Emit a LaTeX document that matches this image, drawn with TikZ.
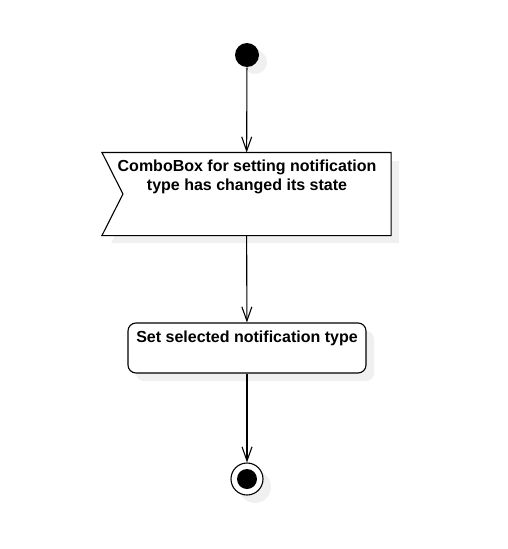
\documentclass[tikz,border=0pt]{standalone}
\usepackage{fontspec}
\setmainfont{Liberation Sans}
\usetikzlibrary{arrows.meta}

\begin{document}
\begin{tikzpicture}[x=1pt, y=-1pt, line width=1.1pt,
    flow/.style={-{Straight Barb[length=14pt, width=10pt]}},
    shade/.style={fill=black!6, draw=none},
    label text/.style={font=\bfseries\fontsize{16}{19}\selectfont, align=center, inner sep=0pt}]
        \useasboundingbox (0,0) rectangle (507,549);

        % Shadows
        \fill[shade] (255,62) circle (12);
        \fill[shade] (111,161) -- (399,161) -- (399,243) -- (111,243) -- (132,202) -- cycle;
        \fill[shade, rounded corners=8pt] (136,331) rectangle (374,381);
        \fill[shade] (255,487) circle (16);

        % Initial node
        \node (start) [circle, fill=black, minimum size=24pt, inner sep=0pt] at (247,55) {};

        % Event (accept signal)
        \node (event) [minimum width=288pt, minimum height=82pt, inner sep=0pt] at (246.5,194) {};
        \draw[fill=white] (event.north west) -- (event.north east) -- (event.south east)
            -- (event.south west) -- ([xshift=21pt]event.west) -- cycle;
        \node (eventtext) [label text] at (247,176.5) {ComboBox for setting notification\\type has changed its state};

        % Action
        \node (action) [draw, fill=white, rounded corners=8pt, minimum width=238pt, minimum height=50pt, inner sep=0pt] at (247,348) {};
        \node (actiontext) [label text] at (247,338) {Set selected notification type};

        % Final node
        \node (end) [circle, draw, fill=white, minimum size=32pt, inner sep=0pt] at (247,479) {};
        \node (enddot) [circle, fill=black, minimum size=20pt, inner sep=0pt] at (end.center) {};

        % Edges
        \draw[flow] (start) -- (event);
        \draw[flow] (event) -- (action);
        \draw[flow] (action) -- (end);

    \end{tikzpicture}
\end{document}
